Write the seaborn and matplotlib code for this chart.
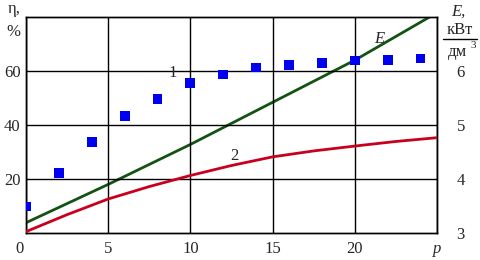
import matplotlib
matplotlib.use('Agg')
import matplotlib.pyplot as plt
import matplotlib.transforms as mtransforms
import seaborn as sns
import pandas as pd

# curve 1: efficiency points (left axis, %)
p_pts = [0, 2, 4, 6, 8, 10, 12, 14, 16, 18, 20, 22, 24]
eta_1 = [9.8, 22.3, 33.6, 43.3, 49.6, 55.6, 58.7, 61.3, 62.1, 63.1, 63.9, 64.2, 64.6]

# curve 2: efficiency (left axis, %)
p_curve = [0, 2.5, 5, 7.5, 10, 12.5, 15, 17.5, 20, 22.5, 25]
eta_2 = [0.5, 6.8, 12.6, 17.2, 21.3, 25.0, 28.2, 30.4, 32.2, 33.9, 35.3]

# E line (right axis, kW/dm3)
p_e = [0, 5, 10, 15, 20, 25]
e_vals = [3.19, 3.90, 4.64, 5.42, 6.20, 7.08]

x_ticks = [0, 5, 10, 15, 20, 25]
x_labels = ['0', '5', '10', '15', '20', 'p']
y_ticks = [20, 40, 60]
e_ticks = [3, 4, 5, 6]

df1 = pd.DataFrame({'p': p_pts, 'eta': eta_1})
df2 = pd.DataFrame({'p': p_curve, 'eta': eta_2})
dfe = pd.DataFrame({'p': p_e, 'E': e_vals})

sns.set_style('white')
plt.rcParams['font.family'] = ['Liberation Serif', 'DejaVu Serif']
plt.rcParams['font.size'] = 12

fig = plt.figure(figsize=(4.81, 2.6), dpi=100)
ax = fig.add_axes([26/481, 1 - 233/260, (437-26)/481, (233-17)/260])

ax.set_xlim(0, 25)
ax.set_ylim(0, 80)
ax.set_xticks(x_ticks)
ax.set_yticks(y_ticks)
ax.grid(True, color='black', linewidth=1)
ax.set_axisbelow(True)

sns.lineplot(x='p', y='eta', data=df2, ax=ax, color='#c8001e', linewidth=2, zorder=3)
ax2 = ax.twinx()
ax2.set_ylim(3, 7)
sns.lineplot(x='p', y='E', data=dfe, ax=ax2, color='#145214', linewidth=2, zorder=3)
sns.scatterplot(x='p', y='eta', data=df1, ax=ax, marker='s', s=50, color='#0000f0',
                edgecolor='none', zorder=4)
ax.set_zorder(ax2.get_zorder() + 1)
ax.patch.set_visible(False)

ax.set_xlabel('')
ax.set_ylabel('')
ax2.set_ylabel('')
ax.set_xticklabels(x_labels)
ax.set_yticklabels([str(v) for v in y_ticks])
ax.tick_params(length=0, pad=4, labelsize=12)
ax.tick_params(axis='x', pad=6)
ax2.set_yticks(e_ticks)
ax2.set_yticklabels([str(v) for v in e_ticks])
ax2.tick_params(length=0, pad=14, labelsize=12)
for lbl in ax.get_xticklabels():
    if lbl.get_text() == 'p':
        lbl.set_style('italic')
    if lbl.get_text() == '0':
        lbl.set_transform(lbl.get_transform() + mtransforms.ScaledTranslation(-0.06, 0, fig.dpi_scale_trans))

for a in (ax, ax2):
    for s in a.spines.values():
        s.set_color('black')
        s.set_linewidth(1)

ax.text(10 - 1.05, 55.6 + 3.5, '1', fontsize=12, ha='center', va='center')
ax.text(12.7, 28.5, '2', fontsize=12, ha='center', va='center')
ax.text(21.5, 72, 'E', fontsize=12, style='italic', ha='center', va='center')

fig.text(14/481, 1 - 9/260, 'η,', fontsize=12, ha='center', va='center')
fig.text(13/481, 1 - 32/260, '%', fontsize=12, ha='center', va='center')
fig.text(458/481, 1 - 12/260, 'E,', fontsize=12, style='italic', ha='center', va='center')
fig.text(460/481, 1 - 30/260, 'кВт', fontsize=12, ha='center', va='center')
fig.add_artist(plt.Line2D([443/481, 477/481], [1 - 39/260, 1 - 39/260], color='black', linewidth=1))
fig.text(458/481, 1 - 52/260, 'дм', fontsize=12, ha='center', va='center')
fig.text(473/481, 1 - 45/260, '3', fontsize=8, ha='center', va='center')

plt.savefig('out.png', dpi=100)
